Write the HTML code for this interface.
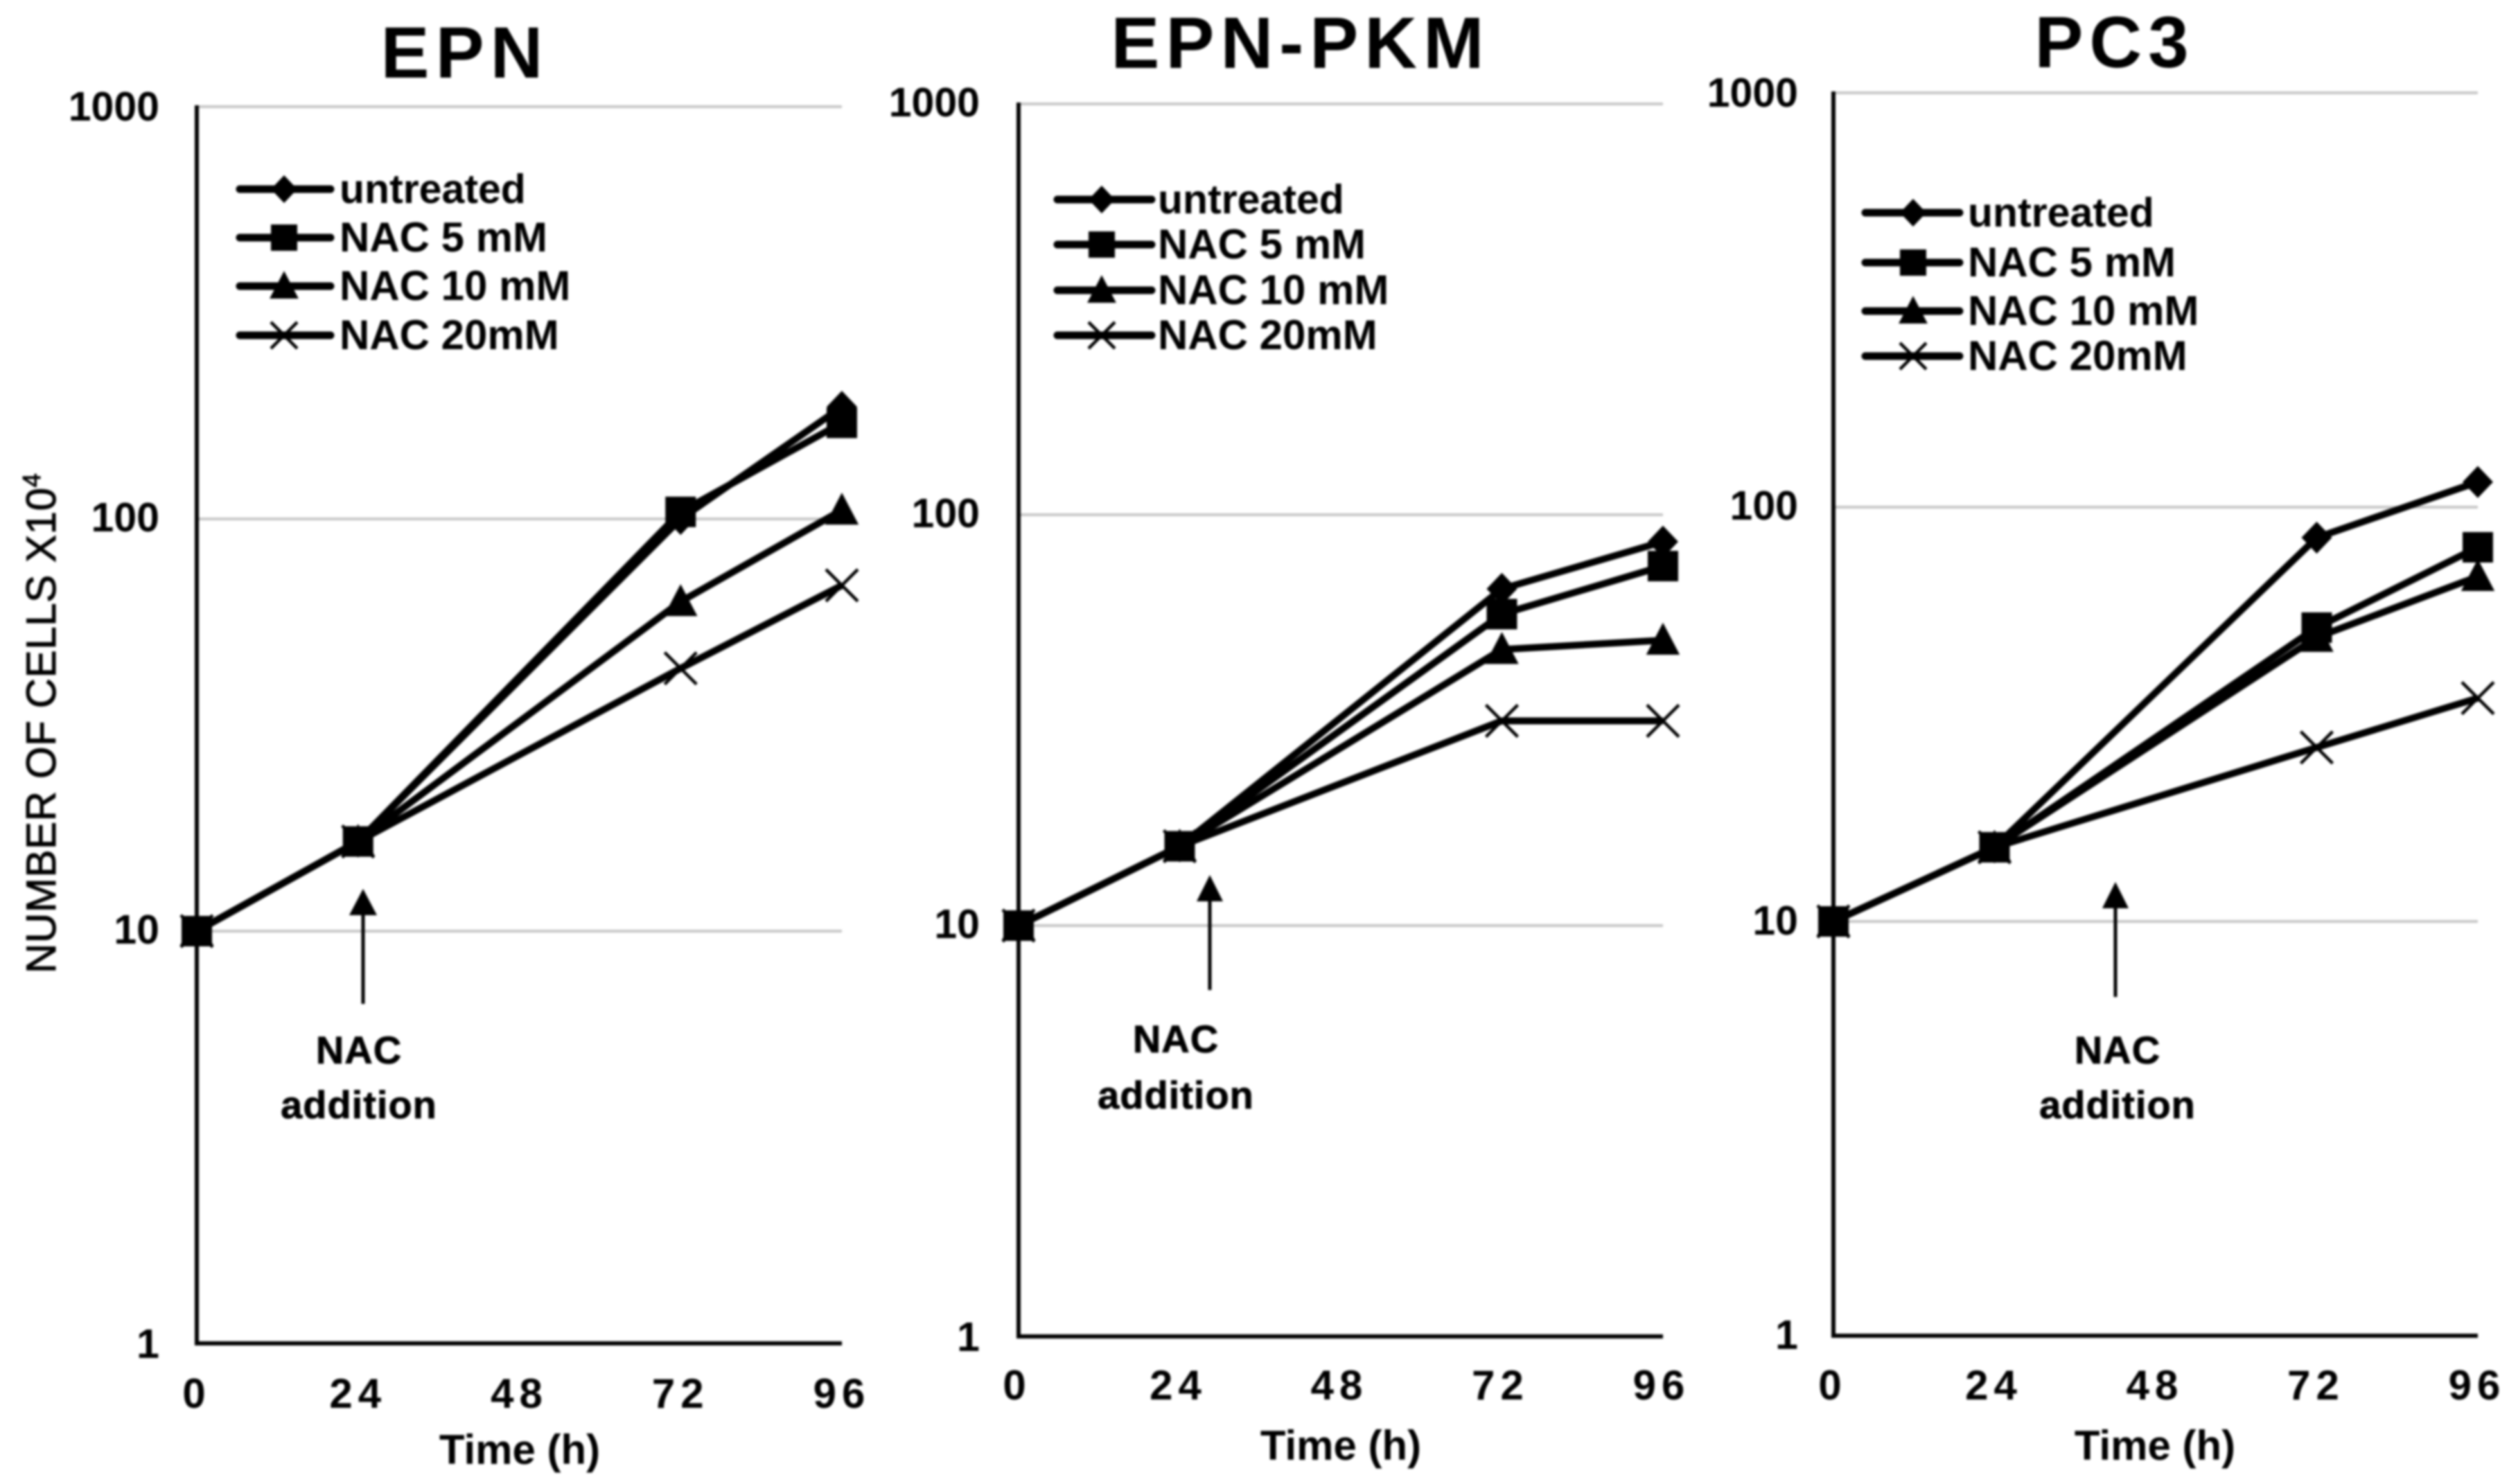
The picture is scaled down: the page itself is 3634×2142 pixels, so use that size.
<!DOCTYPE html>
<html lang="en">
<head>
<meta charset="utf-8">
<title>Cell growth with NAC treatment</title>
<style>
html,body{margin:0;padding:0;background:#fff;width:3634px;height:2142px;overflow:hidden}
svg{display:block;filter:blur(1.5px)}
text{font-family:"Liberation Sans",Arial,sans-serif;fill:#000}
.title{font-size:105px;font-weight:700;letter-spacing:9px;text-anchor:middle}
.legend{font-size:60px;font-weight:700}
.legend-small{font-size:59px}
.tick{font-size:59px;font-weight:700}
.xtick{font-size:60px;font-weight:700}
.xlab{font-size:60px;font-weight:700;text-anchor:middle}
.note{font-size:56px;font-weight:700;text-anchor:middle;letter-spacing:1px;stroke:#000;stroke-width:.8px}
.ytitle{font-size:60px;letter-spacing:.6px;fill:#000;stroke:#000;stroke-width:1px}
</style>
</head>
<body>
<svg id="figure" xmlns="http://www.w3.org/2000/svg" width="3634" height="2142" viewBox="0 0 3634 2142">
  <rect x="0" y="0" width="3634" height="2142" fill="#fff"/>
  <g id="marks"></g>

  <text class="title" x="671" y="112">EPN</text>
  <text class="title" x="1877" y="98">EPN-PKM</text>
  <text class="title" x="3052" y="97">PC3</text>

  <text class="ytitle" transform="translate(80,1405) rotate(-90)">NUMBER OF CELLS X10<tspan font-size="36" dy="-22">4</tspan></text>

  <text class="xlab" x="750" y="2113">Time (h)</text>
  <text class="xlab" x="1935" y="2107">Time (h)</text>
  <text class="xlab" x="3110" y="2107">Time (h)</text>

  <g>
    <text class="legend legend-small" x="490" y="293">untreated</text>
    <text class="legend" x="490" y="363">NAC 5 mM</text>
    <text class="legend" x="490" y="433">NAC 10 mM</text>
    <text class="legend" x="490" y="504">NAC 20mM</text>
  </g>
  <g>
    <text class="legend legend-small" x="1671" y="308">untreated</text>
    <text class="legend" x="1671" y="373">NAC 5 mM</text>
    <text class="legend" x="1671" y="439">NAC 10 mM</text>
    <text class="legend" x="1671" y="504">NAC 20mM</text>
  </g>
  <g>
    <text class="legend legend-small" x="2840" y="327">untreated</text>
    <text class="legend" x="2840" y="399">NAC 5 mM</text>
    <text class="legend" x="2840" y="469">NAC 10 mM</text>
    <text class="legend" x="2840" y="534">NAC 20mM</text>
  </g>

  <g>
    <line x1="524" y1="1449" x2="524" y2="1315" stroke="#000" stroke-width="5"/>
    <polygon points="524,1283 504,1321 544,1321" fill="#000"/>
    <text class="note" x="518" y="1535">NAC</text>
    <text class="note" x="518" y="1614">addition</text>
  </g>
  <g>
    <line x1="1746" y1="1429" x2="1746" y2="1295" stroke="#000" stroke-width="5"/>
    <polygon points="1746,1263 1727,1301 1765,1301" fill="#000"/>
    <text class="note" x="1697" y="1519">NAC</text>
    <text class="note" x="1697" y="1600">addition</text>
  </g>
  <g>
    <line x1="3053" y1="1439" x2="3053" y2="1305" stroke="#000" stroke-width="5"/>
    <polygon points="3053,1273 3034,1311 3072,1311" fill="#000"/>
    <text class="note" x="3056" y="1535">NAC</text>
    <text class="note" x="3056" y="1614">addition</text>
  </g>
</svg>
<script>
// ---- data ----
var categories = [0, 24, 48, 72, 96];
var measuredHours = [0, 24, 72, 96];
var yTicks = [1, 10, 100, 1000];

var epnUntreated = [10, 16.5, 100, 187];
var epnNac5 = [10, 16.5, 104, 171];
var epnNac10 = [10, 16.5, 63, 105];
var epnNac20 = [10, 16.5, 43.4, 69];

var pkmUntreated = [10, 15.6, 66, 86];
var pkmNac5 = [10, 15.6, 57.3, 75];
var pkmNac10 = [10, 15.6, 47, 49.5];
var pkmNac20 = [10, 15.6, 31.5, 31.5];

var pc3Untreated = [10, 15.1, 84.4, 115];
var pc3Nac5 = [10, 15.1, 51.2, 80];
var pc3Nac10 = [10, 15.1, 48.5, 68];
var pc3Nac20 = [10, 15.1, 26.3, 34.6];

var seriesKinds = ['diamond', 'square', 'triangle', 'cross'];
var seriesNames = ['untreated', 'nac-5', 'nac-10', 'nac-20'];

var panels = [
  {name:'epn', left:284, right:1215, y1:1939, decade:595, tickRight:230, tickDy:[21,18,18,20], xTickBase:2032, xOff:0,
   series:[epnUntreated, epnNac5, epnNac10, epnNac20],
   legX1:346, legX2:477, legM:410, legY:[273,343,413,484]},
  {name:'epn-pkm', left:1470, right:2400, y1:1929, decade:593, tickRight:1414, tickDy:[21,18,18,18], xTickBase:2020, xOff:-2,
   series:[pkmUntreated, pkmNac5, pkmNac10, pkmNac20],
   legX1:1526, legX2:1662, legM:1590, legY:[288,353,419,484]},
  {name:'pc3', left:2646, right:3576, y1:1928, decade:598, tickRight:2595, tickDy:[19,19,18,20], xTickBase:2020, xOff:-1,
   series:[pc3Untreated, pc3Nac5, pc3Nac10, pc3Nac20],
   legX1:2692, legX2:2828, legM:2761, legY:[307,379,449,514]}
];

var NS = 'http://www.w3.org/2000/svg';
var root = document.getElementById('marks');

function mk(parent, tag, attrs) {
  var el = document.createElementNS(NS, tag);
  for (var k in attrs) { el.setAttribute(k, attrs[k]); }
  parent.appendChild(el);
  return el;
}

function drawMarker(parent, kind, cx, cy, s) {
  var el;
  if (kind === 'diamond') {
    el = mk(parent, 'polygon', {points:(cx-s)+','+cy+' '+cx+','+(cy-s*1.05)+' '+(cx+s)+','+cy+' '+cx+','+(cy+s*1.05), fill:'#000'});
  } else if (kind === 'square') {
    el = mk(parent, 'rect', {x:cx-s, y:cy-s, width:2*s, height:2*s, fill:'#000'});
  } else if (kind === 'triangle') {
    el = mk(parent, 'polygon', {points:(cx-s*1.1)+','+(cy+s*0.95)+' '+cx+','+(cy-s*1.15)+' '+(cx+s*1.1)+','+(cy+s*0.95), fill:'#000'});
  } else {
    el = mk(parent, 'path', {d:'M'+(cx-s)+' '+(cy-s)+'L'+(cx+s)+' '+(cy+s)+'M'+(cx+s)+' '+(cy-s)+'L'+(cx-s)+' '+(cy+s), fill:'none', stroke:'#000', 'stroke-width':4.5});
  }
  return el;
}

panels.forEach(function (p) {
  function xScale(hour) {
    return p.left + (hour - categories[0]) / (categories[categories.length - 1] - categories[0]) * (p.right - p.left);
  }
  function yScale(value) {
    return p.y1 - Math.log10(value) * p.decade;
  }

  var g = mk(root, 'g', {});
  
  

  yTicks.forEach(function (t, i) {
    if (t > 1) {
      var grid = mk(g, 'line', {x1:p.left, y1:yScale(t), x2:p.right, y2:yScale(t), stroke:'#c6c6c6', 'stroke-width':4});
      
      
    }
    var label = mk(g, 'text', {x:p.tickRight, y:yScale(t) + p.tickDy[i], 'text-anchor':'end', 'class':'tick'});
    label.textContent = String(t);
    
    
  });

  var yAxis = mk(g, 'line', {x1:p.left, y1:yScale(1000) - 2, x2:p.left, y2:yScale(1) + 3, stroke:'#000', 'stroke-width':6});
  
  

  var xAxis = mk(g, 'line', {x1:p.left - 3, y1:yScale(1), x2:p.right, y2:yScale(1), stroke:'#000', 'stroke-width':6});
  
  

  categories.forEach(function (c) {
    var xl = mk(g, 'text', {x:xScale(c) + p.xOff, y:p.xTickBase, 'text-anchor':'middle', 'class':'xtick', 'letter-spacing':8});
    xl.textContent = String(c);
    
    
  });

  p.series.forEach(function (values, si) {
    var sg = mk(g, 'g', {});
    
    

    var pts = values.map(function (v, i) { return xScale(measuredHours[i]) + ',' + yScale(v); }).join(' ');
    var line = mk(sg, 'polyline', {points:pts, fill:'none', stroke:'#000', 'stroke-width':10, 'stroke-linejoin':'round'});
    
    

    values.forEach(function (v, i) {
      var size = seriesKinds[si] === 'cross' ? 23 : 22;
      var m = drawMarker(sg, seriesKinds[si], xScale(measuredHours[i]), yScale(v), size);
      
      
    });

    var ly = p.legY[si];
    var key = mk(g, 'line', {x1:p.legX1, y1:ly, x2:p.legX2, y2:ly, stroke:'#000', 'stroke-width':11, 'stroke-linecap':'round'});
    
    

    var km = drawMarker(g, seriesKinds[si], p.legM, ly, 19);
    
    
  });
});
</script>
</body>
</html>
